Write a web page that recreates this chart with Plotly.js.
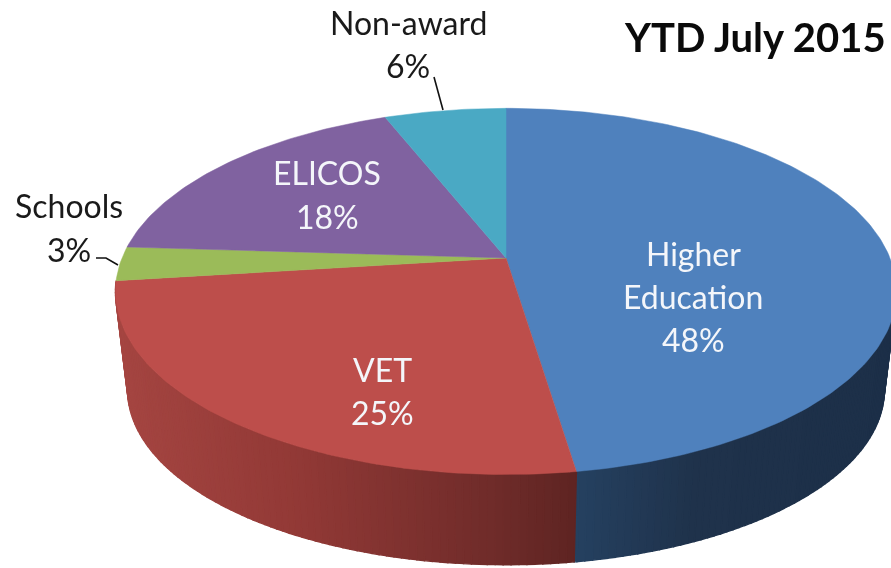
<!DOCTYPE html>
<html><head><meta charset="utf-8">
<script src="https://cdn.plot.ly/plotly-3.0.1.min.js"></script>
<style>html,body{margin:0;padding:0;background:#fff;overflow:hidden}#chart{width:891px;height:568px;filter:blur(0.4px)}</style>
</head><body><div id="chart"></div>
<script>
// Data (slices run clockwise from twelve o'clock)
const categories = ["Higher Education", "VET", "Schools", "ELICOS", "Non-award"];
const labelLines = [["Higher", "Education"], ["VET"], ["Schools"], ["ELICOS"], ["Non-award"]];
const values = [47.6, 25.4, 3, 18, 6];
const topColors = ["#4f81bd", "#bd4e4b", "#9bbb59", "#8062a0", "#4aa9c4"];
const wallStops = [
  [[575, [37, 65, 96]], [690, [31, 50, 75]], [900, [28, 47, 72]]],
  [[115, [166, 70, 66]], [300, [146, 57, 54]], [500, [110, 43, 41]], [575, [94, 36, 34]]],
  [[115, [125, 150, 70]], [140, [125, 150, 70]]],
  [[115, [100, 80, 130]], [400, [100, 80, 130]]],
  [[380, [60, 135, 155]], [510, [60, 135, 155]]]
];
const title = "YTD July 2015";

// Pie geometry on the page-sized axes
const topDisc = {cx: 506, cy: 258, A: 384, B: 177, k: 0.1825};
const baseDisc = {cx: 506, cy: 358, A: 372, B: 169, k: 0.1825};
function rim(d, deg) {
  const t = deg * Math.PI / 180, u = Math.sin(t), v = Math.cos(t), w = 1 + d.k * v;
  return [d.cx + d.A * u / w, d.cy - d.B * v / w];
}
function wallColor(stops, x) {
  if (x <= stops[0][0]) return stops[0][1];
  for (let i = 1; i < stops.length; i++) {
    if (x <= stops[i][0]) {
      const f = (x - stops[i-1][0]) / (stops[i][0] - stops[i-1][0]);
      return stops[i-1][1].map((c, j) => c + f * (stops[i][1][j] - c));
    }
  }
  return stops[stops.length-1][1];
}
const total = values.reduce((a, b) => a + b, 0);
let cum = 0;
const spans = values.map(v => { const s = [cum / total * 360, (cum + v) / total * 360]; cum += v; return s; });

const traces = [];
const step = 1;
spans.forEach((s, i) => {
  if (s[0] >= 260) return;              // these walls face away from the viewer
  const a0 = Math.max(s[0], 101), a1 = s[1];
  for (let a = a0; a < a1; a += step) {
    const b = Math.min(a + step, a1);
    const p = [rim(topDisc, a), rim(topDisc, b), rim(baseDisc, b), rim(baseDisc, a)];
    const mid = (p[2][0] + p[3][0]) / 2;
    const c = wallColor(wallStops[i], mid).map(Math.round);
    const col = `rgb(${c[0]},${c[1]},${c[2]})`;
    traces.push({type: "scatter", mode: "lines", fill: "toself", fillcolor: col,
      line: {color: col, width: 1.4}, hoverinfo: "skip", showlegend: false,
      x: p.map(q => q[0]).concat(p[0][0]), y: p.map(q => q[1]).concat(p[0][1])});
  }
});
spans.forEach((s, i) => {
  const xs = [topDisc.cx], ys = [topDisc.cy];
  for (let a = s[0]; ; a += 1) {
    const d = Math.min(a, s[1]);
    const q = rim(topDisc, d);
    xs.push(q[0]); ys.push(q[1]);
    if (d >= s[1]) break;
  }
  xs.push(topDisc.cx); ys.push(topDisc.cy);
  traces.push({type: "scatter", mode: "lines", fill: "toself", fillcolor: topColors[i],
    line: {color: topColors[i], width: 0.5}, name: categories[i], hoverinfo: "name",
    showlegend: false, x: xs, y: ys});
});
// leader lines
traces.push({type: "scatter", mode: "lines", x: [434, 443], y: [77, 110],
  line: {color: "#111", width: 1.6}, hoverinfo: "skip", showlegend: false});
traces.push({type: "scatter", mode: "lines", x: [96, 106, 118], y: [258, 258, 265],
  line: {color: "#111", width: 1.6}, hoverinfo: "skip", showlegend: false});

// label anchors: [x centre, y of each text line]
const labelAnchors = [[693, [253, 296, 339]], [382, [369, 412]], [69, [205, 249]], [327, [172, 216]], [408, [22, 65]]];
const labelInside = [true, true, false, true, false];
const annotations = [];
categories.forEach((c, i) => {
  const lines = labelLines[i].concat(Math.round(values[i]) + "%");
  lines.forEach((t, j) => annotations.push({
    xref: "x", yref: "y", x: labelAnchors[i][0], y: labelAnchors[i][1][j], text: t,
    showarrow: false, xanchor: "center", yanchor: "middle",
    font: {family: "Lato, sans-serif", size: 32, color: labelInside[i] ? "#f4f6fa" : "#1a1a1a"}
  }));
});
annotations.push({xref: "x", yref: "y", x: 755, y: 37, text: "<b>" + title + "</b>", showarrow: false,
  xanchor: "center", yanchor: "middle", font: {family: "Lato, sans-serif", size: 40, color: "#0a0a0a"}});

Plotly.newPlot("chart", traces, {
  width: 891, height: 568, margin: {l: 0, r: 0, t: 0, b: 0},
  paper_bgcolor: "#fff", plot_bgcolor: "#fff",
  xaxis: {range: [0, 891], visible: false, fixedrange: true},
  yaxis: {range: [568, 0], visible: false, fixedrange: true},
  showlegend: false, annotations: annotations
}, {displayModeBar: false, staticPlot: true});
</script></body></html>
